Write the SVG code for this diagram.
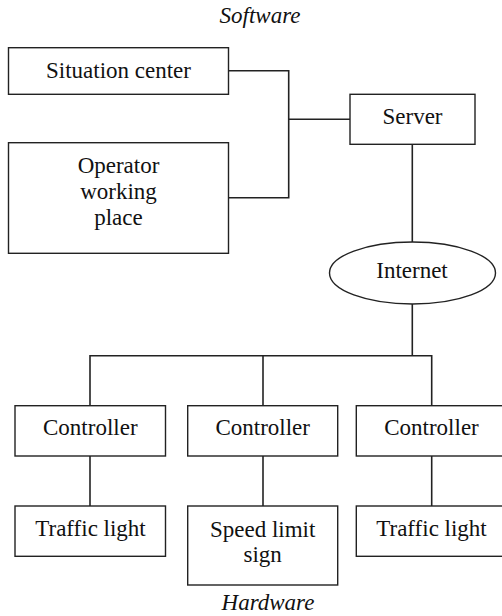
<svg xmlns="http://www.w3.org/2000/svg" width="502" height="616" viewBox="0 0 502 616" font-family="'Liberation Serif', 'Times New Roman', 'DejaVu Serif', serif">
<style>
.box{fill:#fff;stroke:#222;stroke-width:1.4}
.ln{fill:none;stroke:#222;stroke-width:1.6}
text{font-family:'Liberation Serif','Times New Roman','DejaVu Serif',serif;font-size:23px;fill:#111;text-anchor:middle}
.it{font-style:italic}
</style>
<rect width="502" height="616" fill="#fff"/>
<text class="it" x="260" y="23">Software</text>
<text class="it" x="268" y="610">Hardware</text>
<g id="connectors">
<polyline class="ln" points="228.5,70.7 288.7,70.7 288.7,197.7 228.5,197.7"/>
<line class="ln" x1="288.7" y1="119.3" x2="350" y2="119.3"/>
<line class="ln" x1="412.3" y1="144.3" x2="412.3" y2="242"/>
<line class="ln" x1="412.3" y1="304" x2="412.3" y2="355.7"/>
<polyline class="ln" points="90,405.7 90,355.7 431.7,355.7 431.7,405.7"/>
<line class="ln" x1="263" y1="355.7" x2="263" y2="405.7"/>
<line class="ln" x1="90" y1="456" x2="90" y2="506"/>
<line class="ln" x1="263" y1="456" x2="263" y2="506"/>
<line class="ln" x1="431.7" y1="456" x2="431.7" y2="506"/>
</g>
<g id="situation-center">
<rect class="box" x="8.5" y="47.7" width="220" height="46.6"/>
<text x="118.5" y="77.5">Situation center</text>
</g>
<g id="operator">
<rect class="box" x="8.5" y="142.7" width="220" height="110.6"/>
<text x="118.5" y="173">Operator</text>
<text x="118.5" y="199">working</text>
<text x="118.5" y="225">place</text>
</g>
<g id="server">
<rect class="box" x="350" y="94.3" width="125" height="50"/>
<text x="412.5" y="124">Server</text>
</g>
<g id="internet">
<ellipse class="box" cx="412.5" cy="273" rx="83" ry="31"/>
<text x="412" y="278">Internet</text>
</g>
<g id="controller1">
<rect class="box" x="15" y="405.7" width="150.5" height="50.3"/>
<text x="90.3" y="435">Controller</text>
</g>
<g id="controller2">
<rect class="box" x="187.7" y="405.7" width="150" height="50.3"/>
<text x="262.7" y="435">Controller</text>
</g>
<g id="controller3">
<rect class="box" x="356.3" y="405.7" width="150" height="50.3"/>
<text x="431.5" y="435">Controller</text>
</g>
<g id="traffic-light1">
<rect class="box" x="15" y="506" width="150.5" height="50.3"/>
<text x="90.5" y="536">Traffic light</text>
</g>
<g id="speed-limit-sign">
<rect class="box" x="187.7" y="506" width="150" height="79"/>
<text x="262.7" y="537">Speed limit</text>
<text x="262.7" y="562">sign</text>
</g>
<g id="traffic-light2">
<rect class="box" x="356.3" y="506" width="150" height="50.3"/>
<text x="431.5" y="536">Traffic light</text>
</g>
</svg>
